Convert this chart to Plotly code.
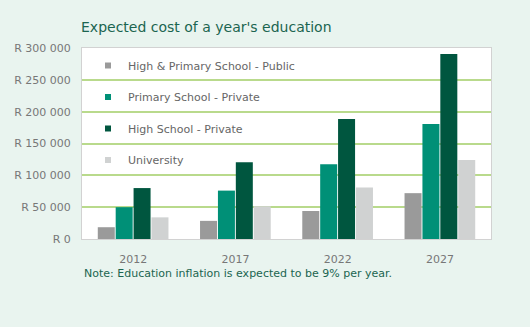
import plotly.graph_objects as go

years = ["2012", "2017", "2022", "2027"]
series_names = ["High & Primary School - Public", "Primary School - Private",
                "High School - Private", "University"]
public_school = [18500, 28500, 44000, 72000]
primary_private = [50000, 76000, 117500, 180500]
high_private = [80000, 120500, 188500, 290500]
university = [34000, 51500, 81000, 124000]
series_values = [public_school, primary_private, high_private, university]
colors = ["#9a9a9a", "#009077", "#00563f", "#d0d2d2"]

y_tickvals = [0, 50000, 100000, 150000, 200000, 250000, 300000]
y_ticktext = ["R 0", "R 50 000", "R 100 000", "R 150 000", "R 200 000", "R 250 000", "R 300 000"]

font = "DejaVu Sans, Verdana, sans-serif"
fig = go.Figure()
for name, vals, c in zip(series_names, series_values, colors):
    fig.add_trace(go.Bar(x=years, y=vals, name=name, marker_color=c,
                         marker_line_width=0, showlegend=False))
for i, (name, c) in enumerate(zip(series_names, colors)):
    fig.add_trace(go.Scatter(x=[None], y=[None], mode="markers", name=name,
                             legendgroup=f"g{i}",
                             marker=dict(symbol="square", size=6, color=c)))

fig.update_layout(
    width=530, height=327,
    margin=dict(l=82, r=39, t=48, b=88),
    paper_bgcolor="#e9f4ef", plot_bgcolor="#ffffff",
    barmode="group", bargap=0.3, bargroupgap=0.05,
    font=dict(family=font, size=11, color="#777777"),
    legend=dict(x=6 / 409, y=1 - 3 / 191, xanchor="left", yanchor="top",
                bgcolor="rgba(0,0,0,0)", tracegroupgap=12.5,
                font=dict(size=11, color="#666666"),
                itemsizing="trace"),
    annotations=[
        dict(text="Expected cost of a year's education", xref="paper", yref="paper",
             x=0, y=(239 - 27) / 191, xanchor="left", yanchor="middle", showarrow=False,
             xshift=-3, font=dict(size=14, color="#1b6550", family=font)),
        dict(text="Note: Education inflation is expected to be 9% per year.",
             xref="paper", yref="paper", x=0, y=-34 / 191, xanchor="left",
             yanchor="middle", showarrow=False,
             font=dict(size=11, color="#1b6550", family=font)),
    ],
)
fig.update_yaxes(range=[0, 300000], tickvals=y_tickvals, ticktext=y_ticktext,
                 showgrid=True, gridcolor="#b9da8c", gridwidth=1.5,
                 zeroline=False, showline=True, linecolor="#d2d2d2", linewidth=1,
                 mirror=True, ticklabelstandoff=8, fixedrange=True)
fig.update_xaxes(showline=True, linecolor="#d2d2d2", linewidth=1, mirror=True,
                 ticklabelstandoff=10, showgrid=False)

fig.write_html("out.html")
